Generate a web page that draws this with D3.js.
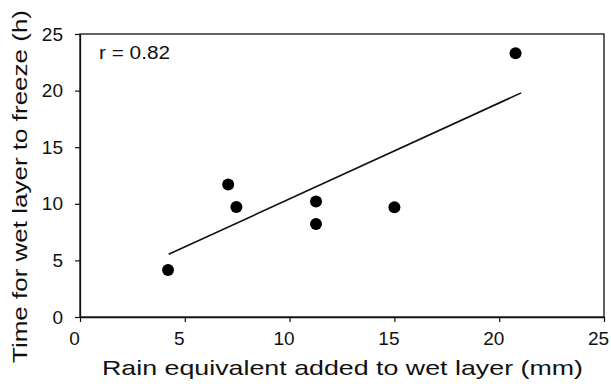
<!DOCTYPE html>
<html>
<head>
<meta charset="utf-8">
<script src="https://cdn.jsdelivr.net/npm/d3@7"></script>
<style>
  body { margin: 0; background: #fff; }
  svg text { font-family: "Liberation Sans", Arial, sans-serif; fill: #111; }
</style>
</head>
<body>
<svg id="chart" width="611" height="389"></svg>
<script>
// data
var rainMm = [4.2, 7.07, 7.46, 11.26, 11.26, 15.0, 20.78];
var freezeH = [4.15, 11.7, 9.72, 10.2, 8.22, 9.7, 23.3];
var fitX = [4.23, 21.05];
var fitY = [5.54, 19.8];
var xTicks = [0, 5, 10, 15, 20, 25];
var yTicks = [0, 5, 10, 15, 20, 25];

var svg = d3.select("#chart");
var plotLeft = 80, plotRight = 604, plotTop = 34, plotBottom = 317;

var x = d3.scaleLinear().domain([0, 25]).range([plotLeft, plotRight]);
var y = d3.scaleLinear().domain([0, 25]).range([plotBottom, plotTop]);

// frame
svg.append("rect")
  .attr("x", plotLeft).attr("y", plotTop)
  .attr("width", plotRight - plotLeft).attr("height", plotBottom - plotTop)
  .attr("fill", "none").attr("stroke", "#111").attr("stroke-width", 1.3);

var xAxis = svg.append("g")
  .attr("transform", "translate(0," + plotBottom + ")")
  .call(d3.axisBottom(x).tickValues(xTicks).tickSize(5).tickPadding(10).tickSizeOuter(0));
var yAxis = svg.append("g")
  .attr("transform", "translate(" + plotLeft + ",0)")
  .call(d3.axisLeft(y).tickValues(yTicks).tickSize(5).tickPadding(12).tickSizeOuter(0));

[xAxis, yAxis].forEach(function (g) {
  g.select(".domain").attr("stroke", "#111").attr("stroke-width", 1.3);
  g.selectAll(".tick line").attr("stroke", "#111").attr("stroke-width", 1.2);
  g.selectAll(".tick text").attr("font-size", 19).attr("font-family", "Liberation Sans, Arial, sans-serif").attr("fill", "#111");
});
// x labels sit a little left of their ticks in the original
xAxis.selectAll(".tick text").attr("dx", -6);

// regression line
svg.append("line")
  .attr("x1", x(fitX[0])).attr("y1", y(fitY[0]))
  .attr("x2", x(fitX[1])).attr("y2", y(fitY[1]))
  .attr("stroke", "#111").attr("stroke-width", 1.6);

// points
svg.selectAll("circle.pt")
  .data(d3.range(rainMm.length))
  .enter().append("circle")
  .attr("class", "pt")
  .attr("cx", function (i) { return x(rainMm[i]); })
  .attr("cy", function (i) { return y(freezeH[i]); })
  .attr("r", 6)
  .attr("fill", "#000");

svg.append("text")
  .attr("x", 99).attr("y", 59)
  .attr("font-size", 18)
  .attr("textLength", 71).attr("lengthAdjust", "spacingAndGlyphs")
  .text("r = 0.82");

// axis titles
svg.append("text")
  .attr("x", 102).attr("y", 375)
  .attr("font-size", 21)
  .attr("textLength", 481).attr("lengthAdjust", "spacingAndGlyphs")
  .text("Rain equivalent added to wet layer (mm)");

svg.append("text")
  .attr("transform", "translate(27,363) rotate(-90)")
  .attr("font-size", 21)
  .attr("textLength", 353).attr("lengthAdjust", "spacingAndGlyphs")
  .text("Time for wet layer to freeze (h)");
</script>
</body>
</html>
